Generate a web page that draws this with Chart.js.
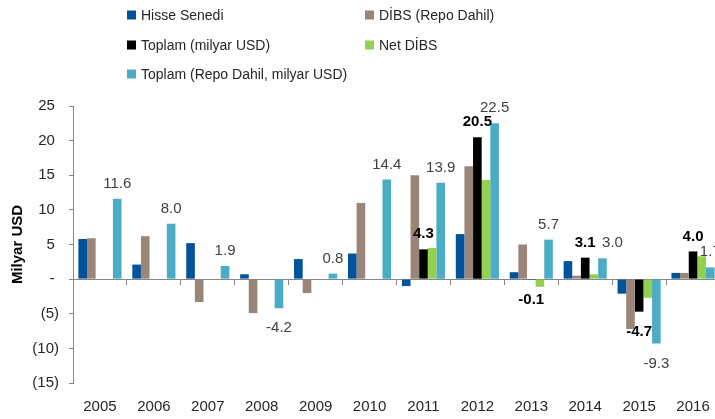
<!DOCTYPE html>
<html>
<head>
<meta charset="utf-8">
<script src="https://cdn.jsdelivr.net/npm/chart.js@4/dist/chart.umd.min.js"></script>
<style>
  html, body { margin: 0; padding: 0; overflow: hidden; background: #fff; }
  #wrap { width: 730px; height: 419px; }
</style>
</head>
<body>
<div id="wrap"><canvas id="flows" width="730" height="419"></canvas></div>
<script>
const years = ['2005', '2006', '2007', '2008', '2009', '2010', '2011', '2012', '2013', '2014', '2015', '2016'];
const hisse = [5.8, 2.1, 5.2, 0.7, 2.9, 3.7, -1.0, 6.5, 1.0, 2.6, -2.1, 0.9];
const dibsRepo = [5.9, 6.2, -3.3, -4.9, -2.0, 11.0, 15.0, 16.3, 5.0, 0.5, -7.2, 0.9];
const toplam = [null, null, null, null, null, null, 4.3, 20.5, -0.1, 3.1, -4.7, 4.0];
const netDibs = [null, null, null, null, null, null, 4.5, 14.3, -1.1, 0.7, -2.7, 3.3];
const toplamRepo = [11.6, 8.0, 1.9, -4.2, 0.8, 14.4, 13.9, 22.5, 5.7, 3.0, -9.3, 1.7];

const FONT = '"Liberation Sans", Arial, sans-serif';
const AXIS = '#868686';

// value labels on the two total series
const valueLabels = {
  id: 'valueLabels',
  afterDatasetsDraw(chart) {
    const ctx = chart.ctx;
    const specs = [
      { index: 2, font: 'bold 15px ' + FONT, color: '#000' },
      { index: 4, font: '15px ' + FONT, color: '#404040' }
    ];
    const nudge = { '4-9': 10 };
    ctx.save();
    ctx.textAlign = 'center';
    ctx.textBaseline = 'middle';
    specs.forEach(s => {
      const values = chart.data.datasets[s.index].data;
      chart.getDatasetMeta(s.index).data.forEach((bar, j) => {
        const v = values[j];
        if (v === null || v === undefined) return;
        ctx.font = s.font;
        ctx.fillStyle = s.color;
        const y = v >= 0 ? bar.y - 15 : bar.y + 20;
        ctx.fillText(v.toFixed(1), bar.x + (nudge[s.index + '-' + j] || 0), y);
      });
    });
    ctx.restore();
  }
};

// two-column legend like the original
const gridLegend = {
  id: 'gridLegend',
  afterDraw(chart) {
    const ctx = chart.ctx;
    const spots = [[127, 15], [365, 15], [127, 45], [365, 45], [127, 74]];
    ctx.save();
    ctx.font = '14px ' + FONT;
    ctx.textBaseline = 'middle';
    ctx.textAlign = 'left';
    chart.data.datasets.forEach((ds, i) => {
      const [x, y] = spots[i];
      ctx.fillStyle = ds.backgroundColor;
      ctx.fillRect(x, y - 4.5, 9, 9);
      ctx.fillStyle = '#262626';
      ctx.fillText(ds.label, x + 14, y + 1);
    });
    ctx.restore();
  }
};

new Chart(document.getElementById('flows'), {
  type: 'bar',
  data: {
    labels: years,
    datasets: [
      { label: 'Hisse Senedi', data: hisse, backgroundColor: '#00529B' },
      { label: 'DİBS (Repo Dahil)', data: dibsRepo, backgroundColor: '#9B8579' },
      { label: 'Toplam (milyar USD)', data: toplam, backgroundColor: '#000000' },
      { label: 'Net DİBS', data: netDibs, backgroundColor: '#92D050' },
      { label: 'Toplam (Repo Dahil, milyar USD)', data: toplamRepo, backgroundColor: '#4BACC6' }
    ].map(d => Object.assign(d, { xAxisID: 'x', categoryPercentage: 0.8, barPercentage: 1 }))
  },
  options: {
    responsive: false,
    animation: false,
    layout: { padding: { top: 106, right: 10, left: 0, bottom: 0 } },
    plugins: {
      legend: { display: false },
      tooltip: { enabled: false }
    },
    scales: {
      x: {
        type: 'category',
        position: 'bottom',
        grid: { display: false, drawTicks: false },
        border: { display: false },
        ticks: { color: '#262626', font: { family: FONT, size: 15 }, padding: 15, maxRotation: 0 },
        afterFit: s => { s.height = 36; }
      },
      x2: {
        type: 'category',
        axis: 'x',
        position: { y: 0 },
        offset: true,
        ticks: { display: false },
        grid: { offset: true, drawOnChartArea: false, drawTicks: true, tickLength: 5, color: AXIS },
        border: { color: AXIS }
      },
      y: {
        min: -15,
        max: 25,
        ticks: {
          stepSize: 5,
          color: '#262626',
          font: { family: FONT, size: 15 },
          padding: 10,
          callback: v => v === 0 ? '- ' : (v < 0 ? '(' + (-v) + ')' : v + ' ')
        },
        grid: { drawOnChartArea: false, drawTicks: true, tickLength: 4, color: AXIS },
        border: { color: AXIS },
        title: {
          display: true,
          text: 'Milyar USD',
          color: '#000',
          font: { family: FONT, size: 15, weight: 'bold' },
          padding: { top: 9, bottom: 0 }
        },
        afterFit: s => { s.width = 73; }
      }
    }
  },
  plugins: [valueLabels, gridLegend]
});
</script>
</body>
</html>
